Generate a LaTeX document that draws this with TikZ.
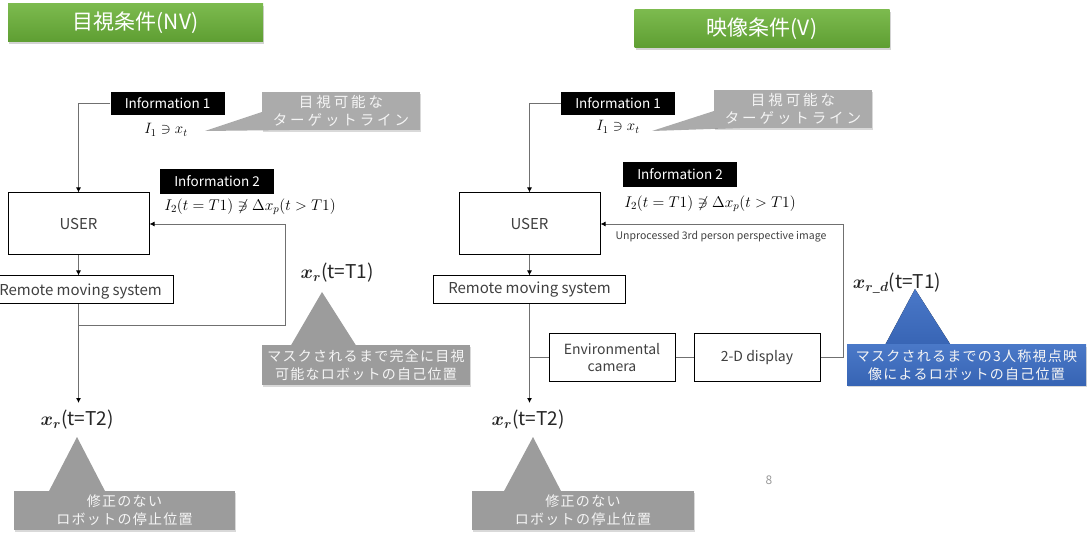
\documentclass[tikz,border=0pt]{standalone}
\usepackage{fix-cm}
\usepackage{amsmath,bm}
\usepackage{fontspec}
\setmainfont{Noto Sans CJK JP}
\usetikzlibrary{shadows,arrows.meta}
\definecolor{lineg}{HTML}{707070}
\definecolor{txtg}{HTML}{404040}
\definecolor{calg}{HTML}{9C9C9C}
\definecolor{callg}{HTML}{ABABAB}
\definecolor{gtop}{HTML}{7CBA4E}
\definecolor{gbot}{HTML}{5E9E32}
\definecolor{btop}{HTML}{4A78C8}
\definecolor{bbot}{HTML}{3764B4}
\tikzset{
  titlebox/.style={top color=gtop, bottom color=gbot, draw=none, text=white,
    font=\fontsize{21}{24}\selectfont, minimum width=255pt, minimum height=38pt,
    inner sep=0pt, drop shadow={opacity=0.35, shadow xshift=1pt, shadow yshift=-2pt}},
  infobox/.style={fill=black, text=white, font=\fontsize{13.5}{15}\selectfont,
    minimum width=114pt, inner sep=0pt},
  blockbox/.style={draw=black, line width=1pt, fill=white, text=txtg,
    font=\fontsize{15}{18}\selectfont, inner sep=0pt, align=center},
  calloutbox/.style={fill=#1, text=white!92!gray,
    font=\fontsize{14}{18}\selectfont\addfontfeature{LetterSpace=9},
    inner sep=0pt, align=center,
    drop shadow={opacity=0.3, shadow xshift=1pt, shadow yshift=-2pt}},
  wedge/.style={fill=#1},
  conn/.style={draw=lineg, line width=0.9pt},
  arr/.style={conn, -{Latex[length=5pt,width=5pt,color=black]}},
  mathlbl/.style={inner sep=0pt, font=\fontsize{15}{17}\selectfont},
  eqlbl/.style={inner sep=0pt, font=\fontsize{15.5}{18}\selectfont},
  poslbl/.style={inner sep=0pt, text=black!85, font=\fontsize{19}{22}\selectfont},
}
\newcommand{\xr}{\ensuremath{\bm{x}_{\bm{r}}}}
\begin{document}
\begin{tikzpicture}[x=1pt,y=-1pt]
\useasboundingbox (0,0) rectangle (1089,534);

% ---------- titles ----------
\node[titlebox] (t1) at (135.5,23) {目視条件(NV)};
\node[titlebox] (t2) at (762,29) {映像条件(V)};

% ================= LEFT PANEL =================
\node[infobox, minimum height=23pt] (i1L) at (167.5,103.5) {Information 1};
\node[mathlbl] (m1L) at (166,130) {$I_1 \ni x_t$};
\fill[wedge=callg] (262,112) -- (205,131) -- (290,130) -- cycle;
\node[calloutbox=callg, minimum width=158pt, minimum height=38pt,
  font=\fontsize{14.5}{18}\selectfont\addfontfeature{LetterSpace=20}] (c1L) at (341,111)
  {目視可能な\\ターゲットライン};

\node[blockbox, minimum width=141pt, minimum height=62pt] (uL) at (78.5,224) {USER};
\node[infobox, minimum height=25pt] (i2L) at (217,181.5) {Information 2};
\node[eqlbl] (m2L) at (250,207)
  {$I_2(t=T1) \not\ni \Delta x_p(t>T1)$};
\node[blockbox, minimum width=190pt, minimum height=28pt, text depth=0pt] (rL) at (78.5,290)
  {\hspace*{4pt}Remote moving system};

\coordinate (jL) at (78.5,325);
\coordinate (fbL) at (285,325);
\coordinate (aL) at (78.5,403);
\draw[arr] (i1L.west) -| (uL.north);
\draw[arr] (uL.south) -- (rL.north);
\draw[arr] (rL.south) -- (aL);
\draw[arr] (jL) -- (fbL) |- (uL.east);

\node[poslbl] (xT1L) at (337,273) {\xr(t=T1)};
\coordinate (tipT1L) at (322,292);
\fill[wedge=calg] (tipT1L) -- (290,347) -- (357,347) -- cycle;
\node[calloutbox=calg, minimum width=208pt, minimum height=40pt] (c2L) at (366,365)
  {マスクされるまで完全に目視\\可能なロボットの自己位置};

\node[poslbl] (xT2L) at (77,420) {\xr(t=T2)};
\coordinate (tipT2L) at (77,437);
\fill[wedge=calg] (tipT2L) -- (48,493) -- (106,493) -- cycle;
\node[calloutbox=calg, minimum width=221pt, minimum height=39pt] (c3L) at (124.5,510.5)
  {修正のない\\ロボットの停止位置};

% ================= RIGHT PANEL =================
\node[infobox, minimum height=23pt] (i1R) at (618,103.5) {Information 1};
\node[mathlbl] (m1R) at (618,127) {$I_1 \ni x_t$};
\fill[wedge=callg] (714,111) -- (652,131) -- (740,128) -- cycle;
\node[calloutbox=callg, minimum width=158pt, minimum height=38pt,
  font=\fontsize{14.5}{18}\selectfont\addfontfeature{LetterSpace=20}] (c1R) at (793,109)
  {目視可能な\\ターゲットライン};

\node[blockbox, minimum width=141pt, minimum height=62pt] (uR) at (529.5,224) {USER};
\node[infobox, minimum height=25pt] (i2R) at (680,174.5) {Information 2};
\node[eqlbl] (m2R) at (710,204)
  {$I_2(t=T1) \not\ni \Delta x_p(t>T1)$};
\node[blockbox, minimum width=192pt, minimum height=28pt] (rR) at (529.5,290) {Remote moving system};
\node[blockbox, minimum width=126pt, minimum height=47pt, font=\fontsize{14}{17}\selectfont] (env) at (612,357.5)
  {Environmental\\camera};
\node[blockbox, minimum width=126pt, minimum height=47pt, font=\fontsize{14}{17}\selectfont] (disp) at (757,357.5)
  {2-D display};
\node[inner sep=0pt, text=txtg, font=\fontsize{10.5}{12}\selectfont] (unp) at (721,237)
  {Unprocessed 3rd person perspective image};

\coordinate (jR) at (529.5,357.5);
\coordinate (fbR) at (843,357.5);
\coordinate (aR) at (529.5,403);
\draw[arr] (i1R.west) -| (uR.north);
\draw[arr] (uR.south) -- (rR.north);
\draw[arr] (rR.south) -- (aR);
\draw[conn] (jR) -- (env.west);
\draw[conn] (env.east) -- (disp.west);
\draw[arr] (disp.east) -- (fbR) |- (uR.east);

\node[poslbl] (xdR) at (897,283) {$\bm{x}_{\bm{r}\_\bm{d}}$(t=T1)};
\coordinate (tipdR) at (915,289);
\fill[top color=btop, bottom color=bbot] (tipdR) -- (884,347) -- (952,347) -- cycle;
\node[calloutbox=bbot, top color=btop, bottom color=bbot, minimum width=239pt, minimum height=40pt] (cB) at (966.5,365)
  {マスクされるまでの3人称視点映\\像によるロボットの自己位置};

\node[poslbl] (xT2R) at (528,420) {\xr(t=T2)};
\coordinate (tipT2R) at (533,437);
\fill[wedge=calg] (tipT2R) -- (503,493) -- (562,493) -- cycle;
\node[calloutbox=calg, minimum width=222pt, minimum height=39pt] (c3R) at (583,510.5)
  {修正のない\\ロボットの停止位置};

\node[inner sep=0pt, text=gray!80, font=\fontsize{12}{14}\selectfont] (pg) at (769,480) {8};
\end{tikzpicture}
\end{document}
